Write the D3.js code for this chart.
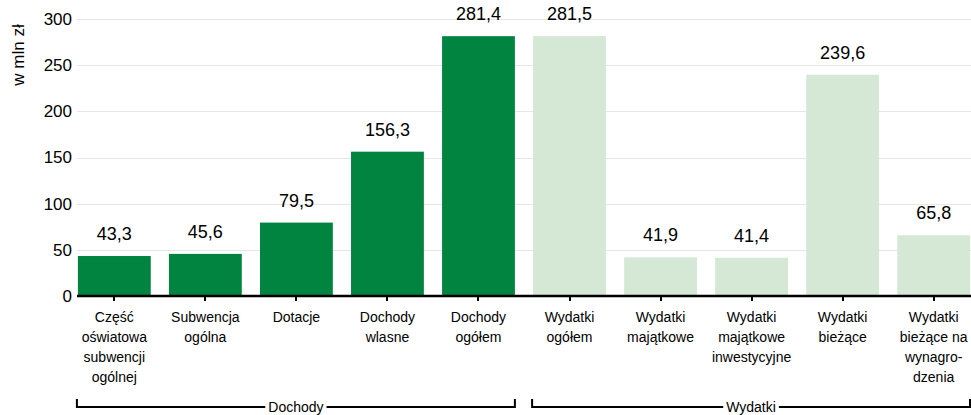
<!DOCTYPE html>
<meta charset="utf-8">
<title>Dochody i wydatki</title>
<style>
body { margin: 0; background: #fff; }
text { font-family: "Liberation Sans", Arial, sans-serif; fill: #000; }
.grid line { stroke: #e6e6e6; stroke-width: 1px; }
.value { font-size: 18px; text-anchor: middle; }
.cat { font-size: 14px; text-anchor: middle; }
.ytick { font-size: 17px; text-anchor: end; }
</style>
<body>
<div id="chart"></div>
<script src="https://cdn.jsdelivr.net/npm/d3@7"></script>
<script>

// data
const categories = [
  "Część\noświatowa\nsubwencji\nogólnej",
  "Subwencja\nogólna",
  "Dotacje",
  "Dochody\nwlasne",
  "Dochody\nogółem",
  "Wydatki\nogółem",
  "Wydatki\nmajątkowe",
  "Wydatki\nmajątkowe\ninwestycyjne",
  "Wydatki\nbieżące",
  "Wydatki\nbieżące na\nwynagro-\ndzenia"
];
const values = [43.3, 45.6, 79.5, 156.3, 281.4, 281.5, 41.9, 41.4, 239.6, 65.8];
const groupOf = ["Dochody", "Dochody", "Dochody", "Dochody", "Dochody",
                 "Wydatki", "Wydatki", "Wydatki", "Wydatki", "Wydatki"];
const groups = ["Dochody", "Wydatki"];
const yTicks = [0, 50, 100, 150, 200, 250, 300];
const yTitle = "w mln zł";

const width = 971, height = 415;
const margin = {top: 19, right: 0, bottom: 119, left: 77};
const colors = {Dochody: "#00843f", Wydatki: "#d5e8d5"};

const svg = d3.select("#chart").append("svg")
    .attr("width", width)
    .attr("height", height);

const x = d3.scaleBand()
    .domain(d3.range(categories.length))
    .range([margin.left, 971])
    .paddingInner(0.2)
    .paddingOuter(0.01);

const y = d3.scaleLinear()
    .domain([0, 300])
    .range([height - margin.bottom + 0, margin.top]);

// gridlines
svg.append("g").attr("class", "grid")
  .selectAll("line")
  .data(yTicks.slice(1))
  .enter().append("line")
    .attr("x1", margin.left)
    .attr("x2", width)
    .attr("y1", d => Math.round(y(d)) + 0.5)
    .attr("y2", d => Math.round(y(d)) + 0.5);

// y labels
svg.append("g")
  .selectAll("text")
  .data(yTicks)
  .enter().append("text")
    .attr("class", "ytick")
    .attr("x", 72)
    .attr("y", d => y(d))
    .attr("dy", "0.35em")
    .text(d => d);

svg.append("text")
    .attr("transform", "translate(24,55) rotate(-90)")
    .attr("text-anchor", "middle")
    .style("font-size", "17px")
    .text(yTitle);

// bars
svg.append("g")
  .selectAll("rect")
  .data(values)
  .enter().append("rect")
    .attr("x", (d, i) => x(i))
    .attr("width", x.bandwidth())
    .attr("y", d => y(d))
    .attr("height", d => y(0) - y(d))
    .attr("fill", (d, i) => colors[groupOf[i]]);

// value labels
svg.append("g")
  .selectAll("text")
  .data(values)
  .enter().append("text")
    .attr("class", "value")
    .attr("x", (d, i) => x(i) + x.bandwidth() / 2)
    .attr("y", d => y(d) - 16)
    .text(d => d3.format(".1f")(d).replace(".", ","));

// x axis line + ticks
const y0 = y(0);
svg.append("line")
    .attr("x1", margin.left).attr("x2", width)
    .attr("y1", y0).attr("y2", y0)
    .attr("stroke", "#000").attr("stroke-width", 2.5);

svg.append("g")
  .selectAll("line")
  .data(categories)
  .enter().append("line")
    .attr("x1", (d, i) => Math.round(x(i) + x.bandwidth() / 2))
    .attr("x2", (d, i) => Math.round(x(i) + x.bandwidth() / 2))
    .attr("y1", y0)
    .attr("y2", y0 + 5)
    .attr("stroke", "#000").attr("stroke-width", 2);

// category labels
const cat = svg.append("g")
  .selectAll("text")
  .data(categories)
  .enter().append("text")
    .attr("class", "cat")
    .attr("x", (d, i) => x(i) + x.bandwidth() / 2)
    .attr("y", 322);

cat.selectAll("tspan")
  .data(d => d.split("\n"))
  .enter().append("tspan")
    .attr("x", function() { return this.parentNode.getAttribute("x"); })
    .attr("dy", (d, i) => i === 0 ? 0 : 20)
    .text(d => d);

// group brackets
const by = 407;
groups.forEach(g => {
  const idx = d3.range(categories.length).filter(i => groupOf[i] === g);
  const x1 = x(idx[0]) - 1;
  const x2 = Math.min(x(idx[idx.length - 1]) + x.bandwidth(), width - 1);
  const br = svg.append("g");
  br.append("path")
      .attr("d", `M${x1},${by - 8}V${by}H${x2}V${by - 8}`)
      .attr("fill", "none")
      .attr("stroke", "#000")
      .attr("stroke-width", 2);
  const t = br.append("text")
      .attr("x", (x1 + x2) / 2)
      .attr("y", by + 5)
      .attr("text-anchor", "middle")
      .style("font-size", "14px")
      .text(g);
  const bb = t.node().getBBox();
  br.insert("rect", "text")
      .attr("x", bb.x - 3)
      .attr("y", bb.y)
      .attr("width", bb.width + 6)
      .attr("height", bb.height)
      .attr("fill", "#fff");
});

</script>
</body>
</html>
